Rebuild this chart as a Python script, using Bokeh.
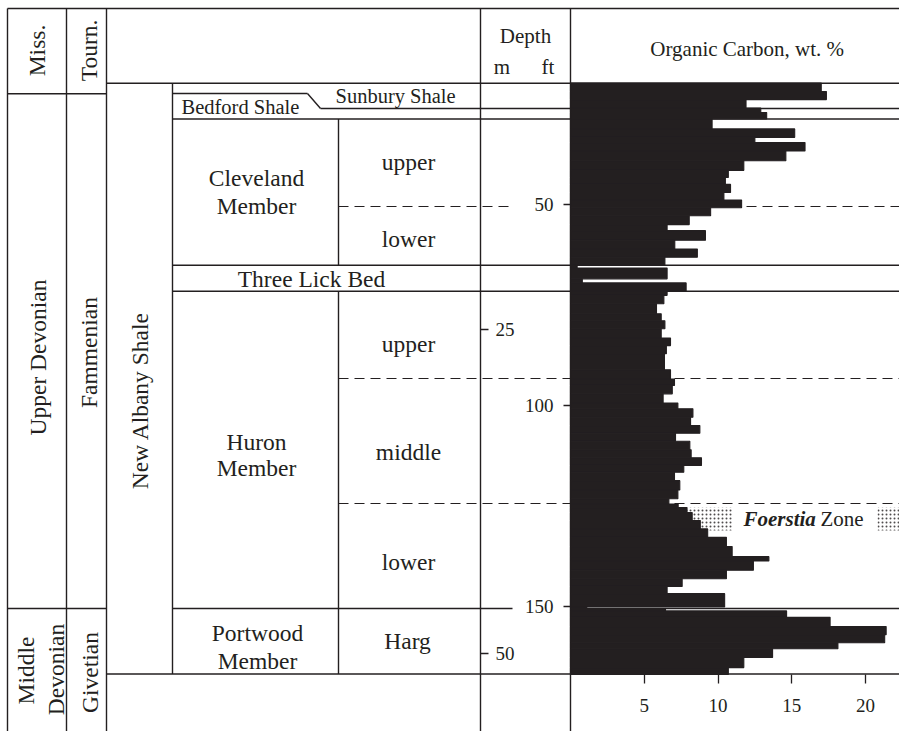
import math
from bokeh.plotting import figure
from bokeh.models import Range1d, LinearAxis, FixedTicker
from bokeh.core.properties import value
from bokeh.embed import file_html
from bokeh.resources import INLINE

# ---------------- data ----------------
# top depth of each sample interval (ft)
sample_top_ft = [19.7, 21.8, 23.8, 25.9, 27.0, 28.6, 31.1, 33.2, 34.5, 36.6,
                 39.0, 41.4, 43.2, 44.9, 46.9, 48.8, 50.7, 52.7, 54.9, 56.4,
                 58.8, 61.0, 63.0, 65.0, 65.7, 68.4, 69.4, 71.4, 72.5, 74.6,
                 77.1, 78.8, 80.8, 83.1, 85.0, 87.0, 91.0, 93.3, 94.9, 97.0,
                 99.3, 100.7, 102.8, 104.9, 106.8, 108.8, 110.9, 112.9, 114.8, 116.5,
                 118.6, 120.9, 123.1, 124.4, 125.3, 126.5, 128.5, 130.6, 132.7, 135.0,
                 137.5, 138.6, 140.9, 143.0, 144.9, 146.7, 150.0, 150.4, 151.0, 152.6,
                 154.9, 156.9, 158.9, 160.4, 162.6, 165.1]
# base depth of each sample interval (ft)
sample_base_ft = [21.8, 23.8, 25.9, 27.0, 28.6, 31.1, 33.2, 34.5, 36.6, 39.0,
                  41.4, 43.2, 44.9, 46.9, 48.8, 50.7, 52.7, 54.9, 56.4, 58.8,
                  61.0, 63.0, 65.0, 65.7, 68.4, 69.4, 71.4, 72.5, 74.6, 77.1,
                  78.8, 80.8, 83.1, 85.0, 87.0, 91.0, 93.3, 94.9, 97.0, 99.3,
                  100.7, 102.8, 104.9, 106.8, 108.8, 110.9, 112.9, 114.8, 116.5, 118.6,
                  120.9, 123.1, 124.4, 125.3, 126.5, 128.5, 130.6, 132.7, 135.0, 137.5,
                  138.6, 140.9, 143.0, 144.9, 146.7, 150.0, 150.4, 151.0, 152.6, 154.9,
                  156.9, 158.9, 160.4, 162.6, 165.1, 166.8]
# organic carbon (wt. %)
organic_carbon = [17.0, 17.35, 11.9, 12.9, 13.3, 9.6, 15.2, 12.5, 15.9, 14.6,
                  11.75, 10.7, 10.5, 10.85, 10.4, 11.6, 9.5, 8.05, 6.55, 9.15,
                  7.07, 8.6, 6.4, 0.45, 6.55, 0.8, 7.84, 6.55, 6.33, 5.83,
                  6.15, 6.4, 6.15, 6.78, 6.5, 6.37, 6.78, 7.05, 6.9, 6.28,
                  7.28, 8.3, 8.14, 8.77, 7.12, 8.09, 8.18, 8.88, 7.68, 7.05,
                  7.41, 7.28, 6.67, 7.3, 7.9, 8.25, 8.8, 9.3, 10.57, 10.96,
                  13.45, 12.4, 10.57, 7.57, 6.55, 10.45, 1.1, 6.44, 14.65, 17.6,
                  21.4, 21.3, 18.13, 13.7, 11.75, 10.7]

ft_ticks = [50, 100, 150]
m_ticks = [25, 50]
carbon_ticks = [5, 10, 15, 20]

# ---------------- layout helpers ----------------
INK = "#231f20"
SERIF = "Liberation Serif"
W, H = 899, 731


def X(px):  # page pixel -> carbon units
    return (px - 570) / 14.75


def Y(py):  # page pixel -> depth ft
    return 100 + (py - 405.4) / 4.02


def M(py):  # page pixel -> depth m
    return 25 + (py - 329.3) / 12.95


p = figure(width=W, height=H, x_range=Range1d(X(0), X(W)),
           y_range=Range1d(Y(H), Y(0)), output_backend="svg",
           toolbar_location=None, x_axis_type=None, y_axis_type=None,
           min_border=0)
p.extra_y_ranges = {"m": Range1d(M(H), M(0))}
p.outline_line_color = None
p.background_fill_color = "white"
p.border_fill_color = "white"

# ---------------- table lines ----------------
solid = [
    (7, 8, 899, 8), (7, 93.3, 106, 93.3), (106, 82.7, 899, 82.7),
    (172, 93, 307, 93), (307, 93, 320, 108), (320, 108, 899, 108),
    (172, 118.5, 899, 118.5), (172, 264.7, 899, 264.7), (172, 290.7, 899, 290.7),
    (7, 608, 106, 608), (172, 608, 512, 608), (570, 608, 899, 608),
    (106, 673.5, 899, 673.5),
    (7, 8, 7, 731), (66, 8, 66, 731), (106, 8, 106, 731),
    (172, 82.7, 172, 673.5), (338, 118.5, 338, 264.7), (338, 290.7, 338, 673.5),
    (480, 8, 480, 731), (570, 8, 570, 731),
]
dashed = [(338, 206, 512, 206), (570, 206, 899, 206),
          (338, 378, 899, 378), (338, 503, 899, 503)]

p.segment(x0=[X(a) for a, b, c, d in solid], y0=[Y(b) for a, b, c, d in solid],
          x1=[X(c) for a, b, c, d in solid], y1=[Y(d) for a, b, c, d in solid],
          line_color=INK, line_width=1.4)
p.segment(x0=[X(a) for a, b, c, d in dashed], y0=[Y(b) for a, b, c, d in dashed],
          x1=[X(c) for a, b, c, d in dashed], y1=[Y(d) for a, b, c, d in dashed],
          line_color=INK, line_width=1.2, line_dash="10 6")

# Foerstia stipple
p.quad(left=[X(686), X(877)], right=[X(732), X(899)], top=[Y(507), Y(507)],
       bottom=[Y(530), Y(530)], fill_color=None, line_color=None,
       hatch_pattern="dot", hatch_color=INK, hatch_scale=4, hatch_weight=0.9,
       hatch_alpha=0.8)

# ---------------- bars ----------------
p.quad(left=[0] * len(organic_carbon), right=organic_carbon,
       top=sample_top_ft, bottom=sample_base_ft,
       fill_color=INK, line_color=INK, line_width=1.1)

# ---------------- axes ----------------
def style(ax, size="19px"):
    ax.axis_line_color = None
    ax.major_tick_line_color = INK
    ax.major_tick_line_width = 1.3
    ax.minor_tick_line_color = None
    ax.major_label_text_font = SERIF
    ax.major_label_text_font_size = size
    ax.major_label_text_color = INK
    ax.major_tick_in = 0


ax_ft = LinearAxis(ticker=FixedTicker(ticks=ft_ticks), fixed_location=0)
style(ax_ft)
ax_ft.major_tick_out = 7
ax_ft.major_label_standoff = 10
p.add_layout(ax_ft, "left")

ax_m = LinearAxis(y_range_name="m", ticker=FixedTicker(ticks=m_ticks),
                  fixed_location=X(480))
style(ax_m)
ax_m.major_tick_out = 8
ax_m.major_label_standoff = 7
p.add_layout(ax_m, "right")

ax_c = LinearAxis(ticker=FixedTicker(ticks=carbon_ticks), fixed_location=Y(673.5))
style(ax_c)
ax_c.major_tick_out = 9
ax_c.major_label_standoff = 16
p.add_layout(ax_c, "below")

# ---------------- texts ----------------
SHIFT = 0.32  # em; compensates where the renderer puts the baseline


def texts(items, size, align="center", angle=0.0, style_="normal"):
    d = SHIFT * size
    if angle:
        xs = [X(a - d) for _, a, b in items]
        ys = [Y(b) for _, a, b in items]
    else:
        xs = [X(a) for _, a, b in items]
        ys = [Y(b - d) for _, a, b in items]
    p.text(x=xs, y=ys, text=[t for t, a, b in items], angle=angle,
           text_font=value(SERIF), text_font_size=f"{size}px", text_color=INK,
           text_align=align, text_baseline="alphabetic", text_font_style=style_)


big = [("Cleveland", 256, 185), ("Member", 256, 213), ("upper", 408, 169),
       ("lower", 408, 246), ("Three Lick Bed", 311, 286), ("upper", 408, 351),
       ("Huron", 256, 449), ("Member", 256, 475), ("middle", 408, 459),
       ("lower", 408, 569), ("Portwood", 257, 640), ("Member", 257, 668),
       ("Harg", 407, 648)]
texts(big, 23.5)

head = [("Depth", 525, 42.7), ("m", 501.5, 73.3), ("ft", 547.5, 73.3),
        ("Organic Carbon, wt. %", 746.7, 55)]
texts(head, 21)

small = [("Bedford Shale", 181, 113.5), ("Sunbury Shale", 335, 102.5)]
texts(small, 20.5, align="left")

rot = [("Miss.", 44.5, 50), ("Tourn.", 96.5, 50), ("Upper Devonian", 45, 357),
       ("Fammenian", 96.5, 352), ("New Albany Shale", 147, 400),
       ("Middle", 33.3, 670), ("Devonian", 63.3, 669), ("Givetian", 96.7, 672)]
texts(rot, 23.5, angle=math.pi / 2)

texts([("Foerstia", 743, 525)], 21, align="left", style_="bold italic")
texts([("Zone", 820, 525)], 21, align="left")

open("out.html", "w").write(file_html(p, INLINE))
